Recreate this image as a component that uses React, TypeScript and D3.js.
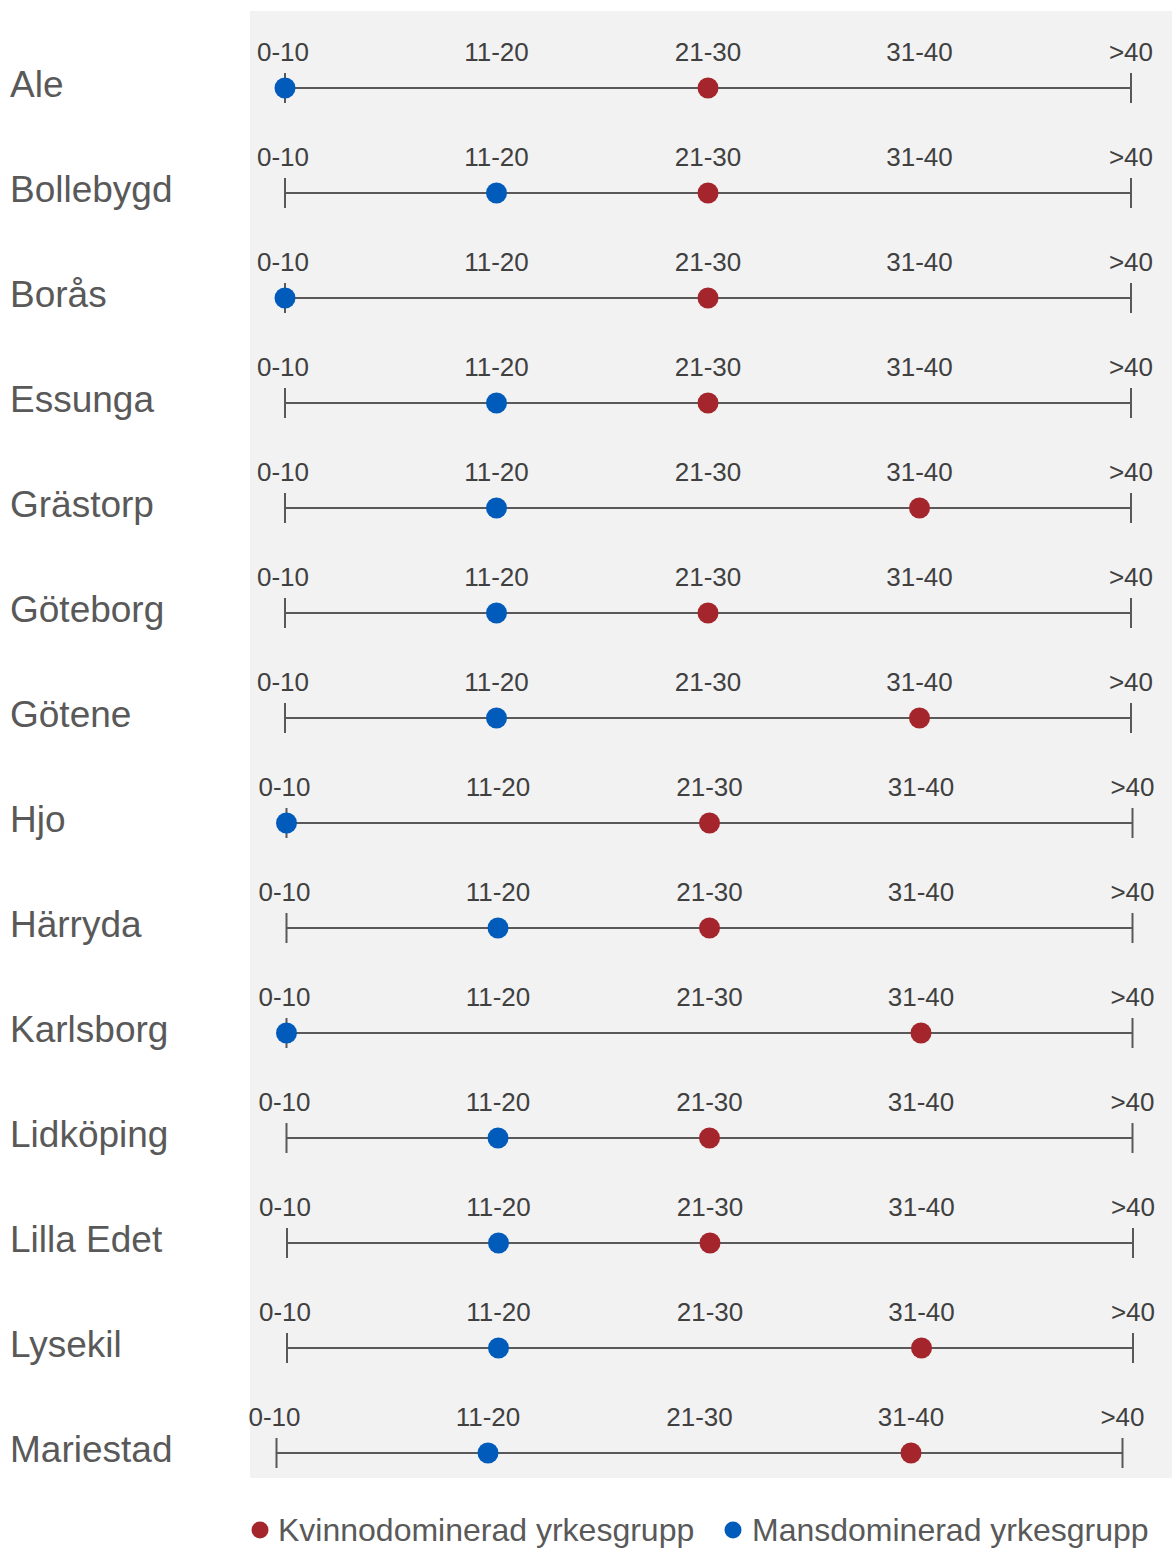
import React from "react";
import * as d3 from "d3";

const municipalities = [
  "Ale", "Bollebygd", "Borås", "Essunga", "Grästorp", "Göteborg", "Götene",
  "Hjo", "Härryda", "Karlsborg", "Lidköping", "Lilla Edet", "Lysekil", "Mariestad",
];
const tickLabels = ["0-10", "11-20", "21-30", "31-40", ">40"];
// index into tickLabels
const womenDominated = [2, 2, 2, 2, 3, 2, 3, 2, 2, 3, 2, 2, 3, 3];
const menDominated = [0, 1, 0, 1, 1, 1, 1, 0, 1, 0, 1, 1, 1, 1];
const seriesNames = ["Kvinnodominerad yrkesgrupp", "Mansdominerad yrkesgrupp"];

// layout quirks of the original image (small horizontal shift per row)
const rowShift = [0, 0, 0, 0, 0, 0, 0, 1.5, 1.5, 1.5, 1.5, 2, 2, -8.5];

const W = 1172;
const H = 1548;
const RED = "#a4262c";
const BLUE = "#005bbb";
const LINE = "#595959";
const FONT = "'Liberation Sans', Arial, sans-serif";

export default function App() {
  const x = d3.scaleLinear().domain([0, tickLabels.length - 1]).range([285, 1131]);
  const y = d3
    .scalePoint<string>()
    .domain(municipalities)
    .range([88, 88 + 105 * (municipalities.length - 1)]);

  return (
    <svg
      width={W}
      height={H}
      style={{ position: "absolute", left: 0, top: 0, background: "#fff" }}
      fontFamily={FONT}
    >
      <rect x={250} y={11} width={W - 250} height={1478 - 11} fill="#f2f2f2" />
      {municipalities.map((m, i) => {
        const cy = y(m)!;
        const dx = rowShift[i];
        const x0 = x(0) + dx;
        const x1 = x(tickLabels.length - 1) + dx;
        return (
          <g key={m}>
            <text x={10} y={cy + 9} fontSize={37} fill="#595959">
              {m}
            </text>
            {tickLabels.map((t, j) => (
              <text
                key={t}
                x={x(j) + dx - (j === 0 ? 2 : 0)}
                y={cy - 27}
                fontSize={26}
                fill="#404040"
                textAnchor="middle"
              >
                {t}
              </text>
            ))}
            <line x1={x0} x2={x1} y1={cy} y2={cy} stroke={LINE} strokeWidth={2} />
            <line x1={x0} x2={x0} y1={cy - 15} y2={cy + 15} stroke={LINE} strokeWidth={2} />
            <line x1={x1} x2={x1} y1={cy - 15} y2={cy + 15} stroke={LINE} strokeWidth={2} />
            <circle cx={x(menDominated[i]) + dx} cy={cy} r={10.5} fill={BLUE} />
            <circle cx={x(womenDominated[i]) + dx} cy={cy} r={10.5} fill={RED} />
          </g>
        );
      })}
      <g>
        <circle cx={260} cy={1530} r={8.5} fill={RED} />
        <text x={278} y={1541} fontSize={32} fill="#595959">
          {seriesNames[0]}
        </text>
        <circle cx={733} cy={1530} r={8.5} fill={BLUE} />
        <text x={752} y={1541} fontSize={32} fill="#595959">
          {seriesNames[1]}
        </text>
      </g>
    </svg>
  );
}
